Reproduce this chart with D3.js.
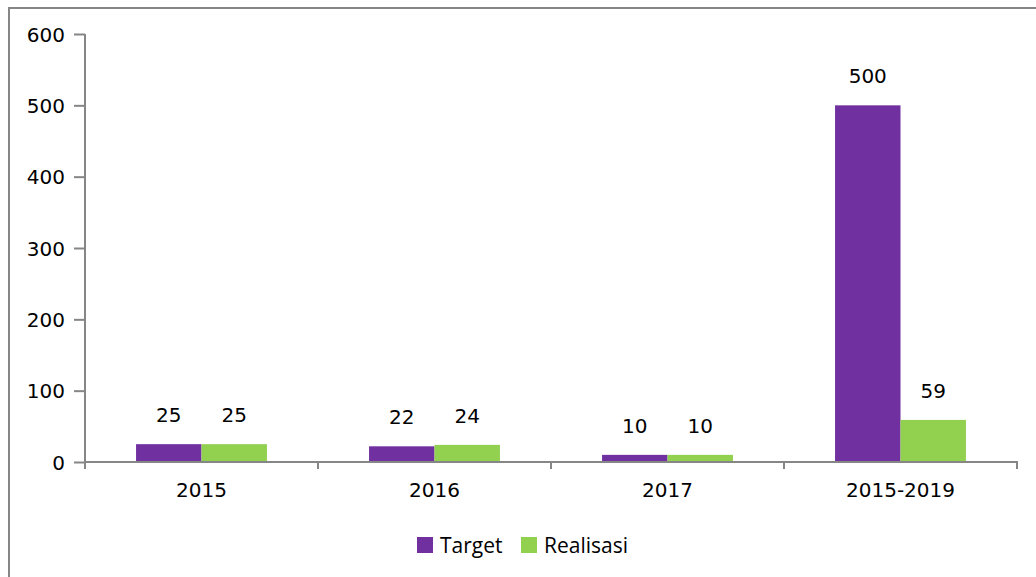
<!DOCTYPE html>
<html>
<head>
<meta charset="utf-8">
<script src="https://cdn.jsdelivr.net/npm/d3@7"></script>
<style>
  body { margin: 0; background: #fff; }
  svg text { font-family: "DejaVu Sans", Verdana, sans-serif; fill: #000; }
</style>
</head>
<body>
<svg width="1036" height="577"></svg>
<script>
// data
const categories = ["2015", "2016", "2017", "2015-2019"];
const seriesNames = ["Target", "Realisasi"];
const target = [25, 22, 10, 500];
const realisasi = [25, 24, 10, 59];
const yTicks = [0, 100, 200, 300, 400, 500, 600];

const colors = ["#7030A0", "#92D050"];
const axisColor = "#868686";
const font = "'DejaVu Sans', Verdana, sans-serif";

const svg = d3.select("svg");

// outer frame (only top and left visible)
svg.append("path")
    .attr("d", "M9,577 V8 H1036")
    .attr("fill", "none")
    .attr("stroke", axisColor)
    .attr("stroke-width", 2);

const x = d3.scaleBand().domain(categories).range([85, 1017]).padding(0);
const xSub = d3.scaleBand().domain(seriesNames)
    .range([0, x.bandwidth()]).paddingInner(0).paddingOuter(0.78);
const y = d3.scaleLinear().domain([0, 600]).range([462, 34]);

const rows = categories.map((c, i) => ({ cat: c, vals: [target[i], realisasi[i]] }));

// y axis
const yAxis = svg.append("g")
    .attr("transform", "translate(85,0)")
    .call(d3.axisLeft(y).tickValues(yTicks).tickSize(11).tickPadding(9).tickSizeOuter(0));
yAxis.select(".domain").attr("stroke", axisColor).attr("stroke-width", 2)
    .attr("d", "M0,34 V469");
yAxis.selectAll(".tick line").attr("stroke", axisColor).attr("stroke-width", 2);
yAxis.selectAll(".tick text")
    .style("font-family", font).style("font-size", "20px").attr("dy", "0.35em");

// bars
const groups = svg.append("g").selectAll("g")
    .data(rows)
    .join("g")
    .attr("transform", d => `translate(${x(d.cat)},0)`);

groups.selectAll("rect")
    .data(d => d.vals.map((v, j) => ({ s: seriesNames[j], v: v, j: j })))
    .join("rect")
    .attr("x", d => xSub(d.s))
    .attr("width", xSub.bandwidth())
    .attr("y", d => y(d.v))
    .attr("height", d => y(0) - y(d.v))
    .attr("fill", d => colors[d.j]);

groups.selectAll("text.val")
    .data(d => d.vals.map((v, j) => ({ s: seriesNames[j], v: v })))
    .join("text")
    .attr("class", "val")
    .attr("x", d => xSub(d.s) + xSub.bandwidth() / 2)
    .attr("y", d => y(d.v) - 22)
    .attr("text-anchor", "middle")
    .style("font-family", font)
    .style("font-size", "20px")
    .text(d => d.v);

// x axis
const xAxis = svg.append("g")
    .attr("transform", "translate(0,462)")
    .call(d3.axisBottom(x).tickSize(0).tickPadding(21));
xAxis.select(".domain").attr("stroke", axisColor).attr("stroke-width", 2)
    .attr("d", "M85,0 H1017 V7");
xAxis.selectAll(".tick text").style("font-family", font).style("font-size", "20px");

// category separators
svg.append("g").selectAll("line")
    .data(categories)
    .join("line")
    .attr("x1", d => x(d)).attr("x2", d => x(d))
    .attr("y1", 462).attr("y2", 469)
    .attr("stroke", axisColor).attr("stroke-width", 2);

// legend
const legend = svg.append("g").attr("transform", "translate(417,537)");
const legendX = [0, 104];
seriesNames.forEach((name, i) => {
  const g = legend.append("g").attr("transform", `translate(${legendX[i]},0)`);
  g.append("rect").attr("width", 16).attr("height", 16).attr("fill", colors[i]);
  g.append("text").attr("x", 23).attr("y", 16)
    .style("font-family", "'Open Sans', sans-serif")
    .style("font-size", "21px")
    .text(name);
});
</script>
</body>
</html>
